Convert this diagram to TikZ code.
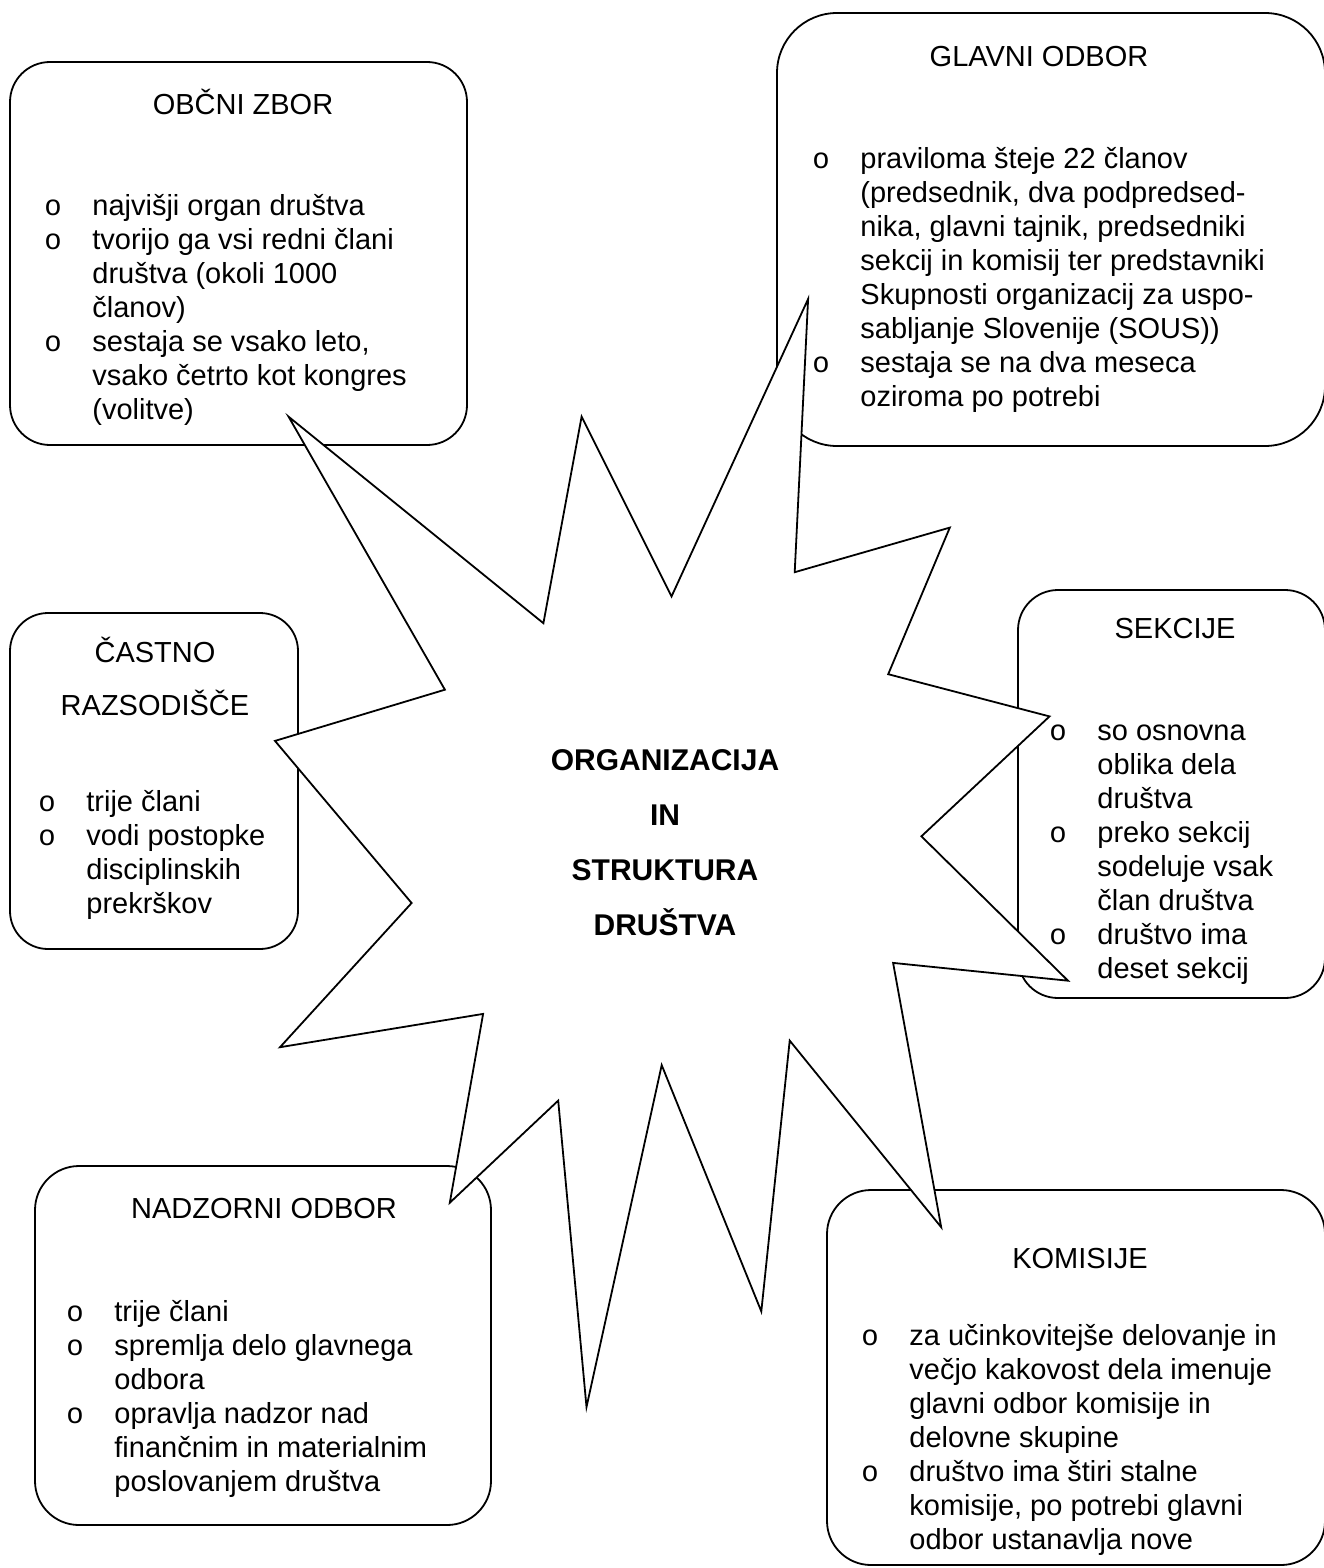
\documentclass[tikz,border=0pt]{standalone}
\usepackage{fontspec}
\setmainfont{Liberation Sans}
\newfontfamily\bulletfont{Liberation Mono}

\newcommand{\obul}{\strut\makebox[24pt][l]{\bulletfont o}}
\newcommand{\itind}{\strut\hspace*{24pt}}

\begin{document}
\begin{tikzpicture}[x=0.5pt, y=-0.5pt,
    box/.style={draw, line width=0.9pt, inner sep=0pt},
    head/.style={anchor=base, inner sep=0pt, font=\fontsize{14.5}{17}\selectfont},
    body/.style={anchor=north west, inner sep=0pt, align=left, font=\fontsize{14.5}{17}\selectfont},
    seal/.style={draw, fill=white, line width=0.9pt, line join=miter}]
    \useasboundingbox (0,0) rectangle (1323,1568);

    \node[box, rounded corners=20pt, minimum width=228.5pt, minimum height=191.5pt] (obcni) at (238.5,253.5) {};
    \node[box, rounded corners=30pt, minimum width=274pt, minimum height=216.5pt] (glavni) at (1051,229.5) {};
    \node[box, rounded corners=19pt, minimum width=144pt, minimum height=168pt] (castno) at (154,781) {};
    \node[box, rounded corners=20pt, minimum width=153.5pt, minimum height=204pt] (sekcije) at (1171.5,794) {};
    \node[box, rounded corners=22pt, minimum width=228pt, minimum height=179.5pt] (nadzorni) at (263,1345.5) {};
    \node[box, rounded corners=22pt, minimum width=249pt, minimum height=187.5pt] (komisije) at (1076,1377.5) {};

    \node[head] (obcnihead) at (243,114) {OBČNI ZBOR};
    \node[body] (obcnibody) at (44,191) {\obul najvišji organ društva\\
        \obul tvorijo ga vsi redni člani\\ \itind društva (okoli 1000\\ \itind članov)\\
        \obul sestaja se vsako leto,\\ \itind vsako četrto kot kongres\\ \itind (volitve)};

    \node[head] (glavnihead) at (1039,67) {GLAVNI ODBOR};
    \node[body] (glavnibody) at (812,144) {\obul praviloma šteje 22 članov\\
        \itind (predsednik, dva podpredsed-\\ \itind nika, glavni tajnik, predsedniki\\
        \itind sekcij in komisij ter predstavniki\\ \itind Skupnosti organizacij za uspo-\\
        \itind sabljanje Slovenije (SOUS))\\
        \obul sestaja se na dva meseca\\ \itind oziroma po potrebi};

    \node[head, anchor=north, align=center] (castnohead) at (155,637) {\strut ČASTNO\\[7.5pt] RAZSODIŠČE};
    \node[body] (castnobody) at (38,787) {\obul trije člani\\
        \obul vodi postopke\\ \itind disciplinskih\\ \itind prekrškov};

    \node[head] (sekcijehead) at (1175,638) {SEKCIJE};
    \node[body] (sekcijebody) at (1049,716) {\obul so osnovna\\ \itind oblika dela\\ \itind društva\\
        \obul preko sekcij\\ \itind sodeluje vsak\\ \itind član društva\\
        \obul društvo ima\\ \itind deset sekcij};

    \node[head] (nadzornihead) at (264,1218) {NADZORNI ODBOR};
    \node[body] (nadzornibody) at (66,1297) {\obul trije člani\\
        \obul spremlja delo glavnega\\ \itind odbora\\
        \obul opravlja nadzor nad\\ \itind finančnim in materialnim\\ \itind poslovanjem društva};

    \node[head] (komisijehead) at (1080,1268) {KOMISIJE};
    \node[body] (komisijebody) at (861,1321) {\obul za učinkovitejše delovanje in\\
        \itind večjo kakovost dela imenuje\\ \itind glavni odbor komisije in\\ \itind delovne skupine\\
        \obul društvo ima štiri stalne\\ \itind komisije, po potrebi glavni\\ \itind odbor ustanavlja nove};

    \draw[seal] (671.5,596.5) -- (808.1,299) -- (794.7,572.2) -- (949.8,527.6)
        -- (888.2,674.2) -- (1049.5,716.4) -- (921.4,836.3) -- (1068,980.7)
        -- (893.1,962.9) -- (941.2,1227.2) -- (789.7,1040.6) -- (761.3,1311.4)
        -- (661.7,1065.1) -- (586.5,1407) -- (558.2,1100.6) -- (449.8,1202.7)
        -- (483.1,1013.9) -- (280,1047.2) -- (411.6,903) -- (275,740.9)
        -- (444.9,689.7) -- (288.6,416.7) -- (543.4,623.2) -- (581.6,416.7) -- cycle;

    \node[anchor=north, inner sep=0pt, align=center, font=\fontsize{15}{27.5}\selectfont\bfseries] (centre)
        at (665,732) {\strut ORGANIZACIJA\\ IN\\ STRUKTURA\\ DRUŠTVA};
\end{tikzpicture}
\end{document}
